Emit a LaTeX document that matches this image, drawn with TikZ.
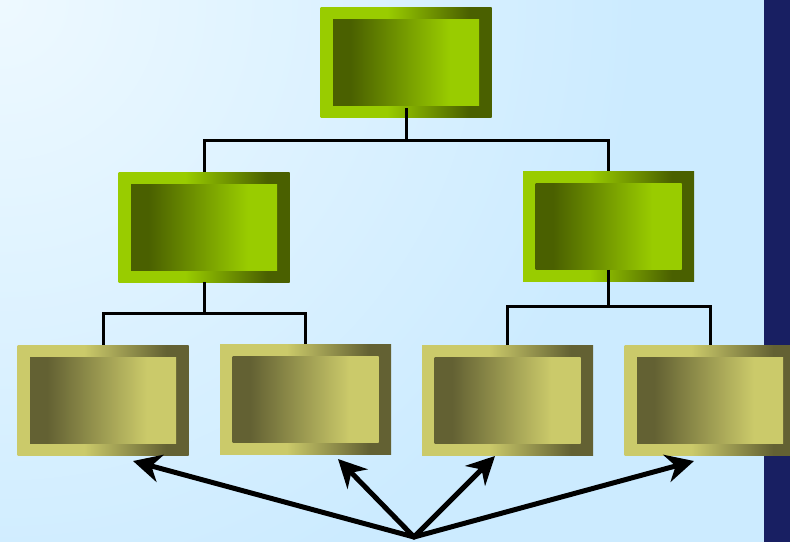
\documentclass[tikz,border=0pt]{standalone}
\usetikzlibrary{arrows.meta}

\definecolor{bgLight}{HTML}{EEF9FF}
\definecolor{bgDeep}{HTML}{CCEBFF}
\definecolor{navy}{HTML}{181F62}
\definecolor{greenL}{HTML}{99CC00}
\definecolor{greenD}{HTML}{4A6000}
\definecolor{oliveL}{HTML}{CBCA6A}
\definecolor{oliveD}{HTML}{636133}

% shading canvas is 100bp wide; the box spans 25bp..75bp of it
% frame: light on the left, dark on the right
\pgfdeclarehorizontalshading{greenframe}{100bp}{color(0bp)=(greenL); color(44.5bp)=(greenL); color(68.5bp)=(greenD); color(100bp)=(greenD)}
% face: dark on the left, light on the right
\pgfdeclarehorizontalshading{greenface}{100bp}{color(0bp)=(greenD); color(31bp)=(greenD); color(65bp)=(greenL); color(100bp)=(greenL)}
\pgfdeclarehorizontalshading{oliveframe}{100bp}{color(0bp)=(oliveL); color(44.5bp)=(oliveL); color(68.5bp)=(oliveD); color(100bp)=(oliveD)}
\pgfdeclarehorizontalshading{oliveface}{100bp}{color(0bp)=(oliveD); color(31bp)=(oliveD); color(65bp)=(oliveL); color(100bp)=(oliveL)}

\tikzset{
  frame/.style={rectangle, inner sep=0pt, minimum width=171pt, minimum height=110pt},
  face/.style={rectangle, inner sep=0pt, minimum width=146pt, minimum height=86pt},
  gframe/.style={frame, shading=greenframe},
  gface/.style={face, shading=greenface},
  oframe/.style={frame, shading=oliveframe},
  oface/.style={face, shading=oliveface},
  link/.style={draw=black, line width=3pt},
  pointer/.style={draw=black, line width=5pt, line cap=round,
    -{Stealth[length=28pt, width=28pt, inset=9pt]}}
}

\begin{document}
\begin{tikzpicture}[x=1pt, y=-1pt]
  \useasboundingbox (0,0) rectangle (790,541);

  % background wash and side band
  \begin{scope}
    \clip (-5,-5) rectangle (795,546);
    \fill[bgDeep] (-5,-5) rectangle (795,546);
    \shade[inner color=bgLight, outer color=bgDeep] (0,0) circle (640);
    \fill[navy] (764,-5) rectangle (795,546);
  \end{scope}

  % top level
  \node[gframe] (top) at (406,62) {};
  \node[gface] (topi) at (406,62) {};

  % second level
  \node[gframe] (midL) at (204,227) {};
  \node[gface] (midLi) at (204,227) {};
  \node[gframe] (midR) at (608.5,226.5) {};
  \node[gface] (midRi) at (608.5,226.5) {};

  % third level
  \node[oframe] (b1) at (103,400) {};
  \node[oface] (b1i) at (103,400) {};
  \node[oframe] (b2) at (305.5,399.5) {};
  \node[oface] (b2i) at (305.5,399.5) {};
  \node[oframe] (b3) at (507.5,400) {};
  \node[oface] (b3i) at (507.5,400) {};
  \node[oframe] (b4) at (710,400) {};
  \node[oface] (b4i) at (710,400) {};

  % tree connectors
  \draw[link] (topi.south) ++(0,3) -- ++(0,32) -| (midL.north);
  \draw[link] (topi.south) ++(0,35) -| (midR.north);
  \draw[link] (midL.south) -- ++(0,31) -| (b1.north);
  \draw[link] (midL.south) ++(0,31) -| (b2.north);
  \draw[link] (midRi.south) -- ++(0,37) -| (b3.north);
  \draw[link] (midRi.south) ++(0,37) -| (b4.north);

  % pointers fanning out from one spot below
  \coordinate (src) at (414,537);
  \coordinate (t1) at (133,461);
  \coordinate (t2) at (338,459);
  \coordinate (t3) at (495,456);
  \coordinate (t4) at (694,461);
  \draw[pointer] (src) -- (t1);
  \draw[pointer] (src) -- (t2);
  \draw[pointer] (src) -- (t3);
  \draw[pointer] (src) -- (t4);
\end{tikzpicture}
\end{document}
